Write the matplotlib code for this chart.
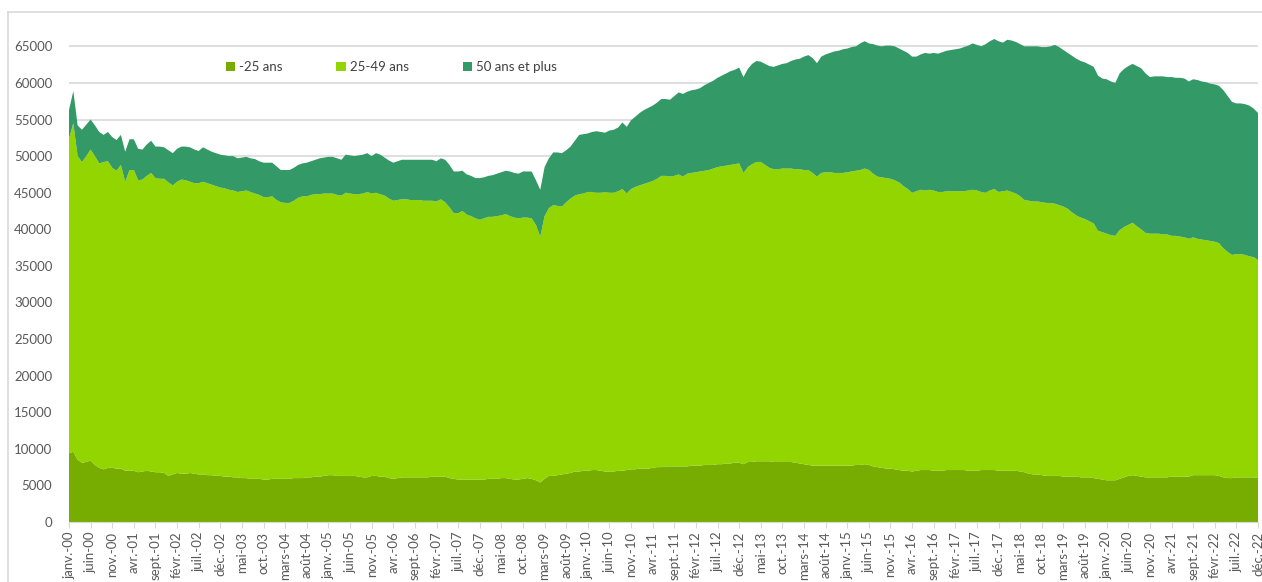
import numpy as np
import matplotlib
matplotlib.use("Agg")
import matplotlib.pyplot as plt
from matplotlib.lines import Line2D

series_names = ["-25 ans", "25-49 ans", "50 ans et plus"]
series_colors = ["#76ad00", "#92d500", "#339966"]

month_names = ["janv.", "févr.", "mars", "avr.", "mai", "juin",
               "juil.", "août", "sept.", "oct.", "nov.", "déc."]
first_year = 2000
last_year = 2022

# moins de 25 ans, un chiffre par mois (janv.-00 -> déc.-22)
under_25 = [
    9400, 9600, 8500, 8100, 8200, 8400, 7800, 7400, 7200, 7400, 7400, 7300,
    7300, 7000, 7000, 7000, 6800, 6900, 7000, 6900, 6800, 6800, 6700, 6300,
    6500, 6700, 6600, 6600, 6700, 6600, 6500, 6500, 6400, 6400, 6300, 6300,
    6200, 6200, 6100, 6100, 6000, 6000, 5900, 5900, 5900, 5800, 5800, 5900,
    5900, 5900, 5900, 5900, 6000, 6000, 6000, 6100, 6100, 6200, 6200, 6300,
    6400, 6400, 6300, 6300, 6300, 6300, 6300, 6200, 6100, 6100, 6300, 6300,
    6200, 6200, 6000, 5900, 6000, 6100, 6100, 6100, 6100, 6100, 6100, 6100,
    6200, 6200, 6200, 6200, 6000, 5900, 5800, 5800, 5800, 5800, 5800, 5800,
    5800, 5900, 5900, 5900, 6000, 6000, 5900, 5800, 5800, 5900, 6000, 5900,
    5700, 5400, 5900, 6300, 6300, 6400, 6500, 6600, 6700, 6900, 6900, 7000,
    7000, 7100, 7100, 7000, 6900, 6900, 6900, 7000, 7000, 7100, 7200, 7200,
    7300, 7300, 7300, 7400, 7500, 7500, 7600, 7600, 7600, 7600, 7600, 7600,
    7700, 7700, 7700, 7800, 7800, 7800, 7900, 7900, 8000, 8000, 8100, 8100,
    7900, 8200, 8200, 8300, 8300, 8300, 8300, 8200, 8200, 8200, 8200, 8200,
    8100, 8000, 7900, 7800, 7700, 7700, 7700, 7700, 7700, 7700, 7700, 7700,
    7700, 7700, 7800, 7800, 7900, 7800, 7600, 7500, 7400, 7300, 7300, 7200,
    7100, 7000, 7000, 6900, 7000, 7100, 7100, 7100, 7000, 7000, 7000, 7100,
    7100, 7100, 7100, 7100, 7000, 7000, 7000, 7100, 7100, 7100, 7100, 7000,
    7000, 7000, 7000, 7000, 6900, 6800, 6600, 6500, 6500, 6400, 6300, 6300,
    6300, 6300, 6200, 6200, 6200, 6200, 6100, 6100, 6100, 6000, 5900, 5800,
    5700, 5700, 5700, 5900, 6100, 6300, 6400, 6300, 6200, 6100, 6100, 6100,
    6100, 6100, 6100, 6200, 6200, 6200, 6200, 6200, 6400, 6400, 6400, 6400,
    6400, 6400, 6300, 6100, 6000, 6000, 6100, 6100, 6100, 6100, 6100, 6000,
]

# 25-49 ans
age_25_49 = [
    43000, 44900, 41500, 41100, 41800, 42500, 42200, 41600, 42000, 41900, 41000, 40700,
    41500, 39500, 41100, 41100, 39900, 39900, 40300, 40800, 40200, 40100, 40200, 40100,
    39500, 39800, 40200, 40100, 39800, 39700, 39800, 40000, 39900, 39700, 39600, 39400,
    39400, 39200, 39200, 39000, 39200, 39300, 39200, 39000, 38800, 38600, 38600, 38600,
    38100, 37800, 37700, 37700, 37900, 38300, 38500, 38400, 38600, 38600, 38600, 38600,
    38500, 38500, 38400, 38300, 38700, 38600, 38500, 38600, 38800, 39000, 38600, 38700,
    38600, 38400, 38200, 38000, 38000, 38000, 38000, 37900, 37900, 37900, 37800, 37800,
    37700, 37600, 37900, 37500, 37000, 36300, 36400, 36700, 36200, 36000, 35700, 35500,
    35700, 35800, 35800, 35900, 35900, 36100, 35900, 35800, 35700, 35700, 35600, 35600,
    34900, 33600, 35900, 36600, 37000, 36800, 36600, 37100, 37500, 37700, 37900, 37900,
    38100, 38000, 37900, 38000, 38200, 38100, 38100, 38200, 38500, 37800, 38300, 38600,
    38700, 38900, 39100, 39200, 39400, 39800, 39700, 39600, 39700, 39900, 39600, 40000,
    40000, 40100, 40200, 40200, 40300, 40500, 40600, 40700, 40700, 40800, 40800, 40900,
    39800, 40300, 40700, 40900, 40900, 40500, 40100, 40000, 40000, 40100, 40100, 40100,
    40100, 40200, 40200, 40300, 40000, 39500, 40000, 40100, 40100, 40000, 40000, 40000,
    40100, 40200, 40200, 40300, 40400, 40300, 40000, 39700, 39700, 39700, 39600, 39500,
    39300, 38900, 38500, 38100, 38200, 38300, 38200, 38300, 38300, 38100, 38100, 38100,
    38100, 38100, 38100, 38100, 38300, 38400, 38300, 38000, 37900, 38200, 38400, 38100,
    38200, 38300, 38100, 37900, 37600, 37200, 37300, 37300, 37300, 37300, 37300, 37300,
    37200, 37000, 36900, 36600, 36100, 35700, 35500, 35300, 35000, 34800, 33900, 33800,
    33700, 33500, 33400, 34000, 34200, 34300, 34500, 34100, 33800, 33400, 33300, 33300,
    33300, 33200, 33200, 32900, 32900, 32800, 32700, 32500, 32500, 32300, 32200, 32100,
    32000, 31900, 31800, 31300, 30900, 30500, 30500, 30500, 30400, 30200, 30100, 29800,
]

# 50 ans et plus
over_50 = [
    3900, 4400, 4200, 4400, 4300, 4100, 4200, 4300, 3700, 4000, 4200, 4200,
    4100, 4100, 4200, 4200, 4300, 4100, 4300, 4400, 4300, 4400, 4300, 4400,
    4400, 4500, 4500, 4600, 4700, 4600, 4400, 4700, 4600, 4500, 4500, 4500,
    4500, 4600, 4700, 4600, 4600, 4600, 4600, 4700, 4600, 4700, 4700, 4600,
    4600, 4400, 4500, 4500, 4500, 4500, 4500, 4600, 4600, 4700, 4900, 4900,
    5000, 5000, 5000, 4900, 5200, 5200, 5200, 5300, 5300, 5300, 5100, 5400,
    5400, 5200, 5200, 5200, 5300, 5400, 5400, 5500, 5500, 5500, 5600, 5600,
    5600, 5500, 5600, 5800, 5800, 5700, 5700, 5500, 5500, 5500, 5500, 5700,
    5600, 5600, 5700, 5800, 5900, 5900, 6100, 6100, 6100, 6300, 6300, 6400,
    6100, 6400, 6700, 6800, 7200, 7300, 7300, 7100, 7100, 7500, 8100, 8100,
    8000, 8200, 8400, 8300, 8100, 8500, 8600, 8700, 9100, 9100, 9400, 9600,
    9900, 10100, 10200, 10300, 10400, 10500, 10500, 10500, 10900, 11200, 11300, 11200,
    11300, 11300, 11400, 11700, 11900, 12000, 12200, 12400, 12600, 12800, 12900, 13100,
    13100, 13400, 13700, 13800, 13700, 13800, 13900, 14000, 14200, 14300, 14400, 14700,
    15000, 15100, 15500, 15700, 15700, 15500, 15900, 16100, 16300, 16600, 16700, 16900,
    16900, 17000, 17000, 17300, 17400, 17300, 17700, 17900, 17900, 18100, 18200, 18300,
    18300, 18500, 18600, 18600, 18400, 18500, 18800, 18600, 18800, 18900, 19100, 19200,
    19300, 19400, 19500, 19700, 19800, 20000, 19900, 19900, 20300, 20400, 20500, 20600,
    20300, 20600, 20700, 20700, 20800, 21000, 21100, 21200, 21200, 21200, 21300, 21400,
    21700, 21600, 21400, 21300, 21400, 21400, 21400, 21400, 21400, 21400, 21200, 21000,
    21100, 21000, 20900, 21400, 21600, 21700, 21700, 21900, 22000, 21800, 21400, 21500,
    21500, 21600, 21500, 21700, 21600, 21700, 21700, 21500, 21600, 21700, 21600, 21600,
    21500, 21500, 21500, 21600, 21300, 20900, 20600, 20600, 20600, 20600, 20300, 20100,
]

y_ticks = list(range(0, 65001, 5000))


def month_labels():
    labels = []
    for year in range(first_year, last_year + 1):
        for name in month_names:
            labels.append("%s-%02d" % (name, year % 100))
    return labels


def plot_chart():
    plt.rcParams['font.family'] = ['Lato', 'DejaVu Sans']
    fig = plt.figure(figsize=(12.62, 5.82), dpi=100)
    ax = fig.add_axes([69 / 1262, 1 - 522 / 582, 1189 / 1262, 502 / 582])

    x = np.arange(len(under_25))
    ax.stackplot(x, under_25, age_25_49, over_50,
                 colors=series_colors, labels=series_names, linewidth=0)

    ax.set_xlim(0, len(x) - 1)
    ax.set_ylim(0, 68600)
    ax.set_yticks(y_ticks)
    ax.set_yticklabels([str(v) for v in y_ticks])
    ax.grid(axis='y', color='#d9d9d9', linewidth=1.2)
    ax.set_axisbelow(True)

    labels = month_labels()
    ax.set_xticks(x[::5])
    ax.set_xticklabels(labels[::5], rotation=90)

    for side in ['top', 'right', 'left']:
        ax.spines[side].set_visible(False)
    ax.spines['bottom'].set_color('#d9d9d9')
    ax.tick_params(axis='y', length=0, pad=12, labelsize=9.5, labelcolor='#595959')
    ax.tick_params(axis='x', length=4, color='#d9d9d9', pad=3,
                   labelsize=9.5, labelcolor='#595959')

    ax.legend(loc='center', bbox_to_anchor=(0.271, 0.906), ncol=3, frameon=False,
              handlelength=0.7, handleheight=0.7, handletextpad=0.3,
              columnspacing=4.1, fontsize=9.5, labelcolor='#404040')

    # cadre gris de la zone de graphique
    fig.add_artist(Line2D([8 / 1262, 8 / 1262], [0, 1 - 12 / 582],
                          color='#d9d9d9', linewidth=1.2))
    fig.add_artist(Line2D([8 / 1262, 1], [1 - 12 / 582, 1 - 12 / 582],
                          color='#d9d9d9', linewidth=1.2))

    fig.savefig("out.png", dpi=100)


def main():
    plot_chart()


if __name__ == "__main__":
    main()
